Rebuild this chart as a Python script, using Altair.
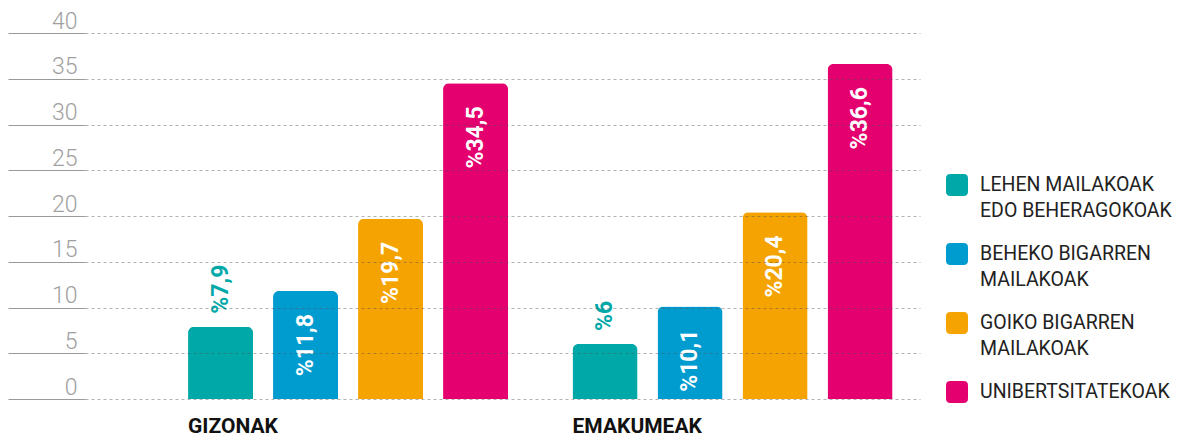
import json
import altair as alt
import pandas as pd

groups = ["GIZONAK", "EMAKUMEAK"]
levels = [
    "LEHEN MAILAKOAK EDO BEHERAGOKOAK",
    "BEHEKO BIGARREN MAILAKOAK",
    "GOIKO BIGARREN MAILAKOAK",
    "UNIBERTSITATEKOAK",
]
level_lines = [
    ["LEHEN MAILAKOAK", "EDO BEHERAGOKOAK"],
    ["BEHEKO BIGARREN", "MAILAKOAK"],
    ["GOIKO BIGARREN", "MAILAKOAK"],
    ["UNIBERTSITATEKOAK"],
]
gizonak = [7.9, 11.8, 19.7, 34.5]
emakumeak = [6.0, 10.1, 20.4, 36.6]
colors = ["#00a8a8", "#009bcf", "#f5a300", "#e4006f"]
y_ticks = [0, 5, 10, 15, 20, 25, 30, 35, 40]

rows = []
for g, vals in zip(groups, [gizonak, emakumeak]):
    for lvl, v in zip(levels, vals):
        rows.append({"group": g, "level": lvl, "value": v,
                     "label": ("%" + f"{v:g}").replace(".", ",")})
df = pd.DataFrame(rows)

label_expr = ""
for lvl, lines in zip(levels, level_lines):
    label_expr += f"datum.label == {json.dumps(lvl)} ? {json.dumps(lines)} : "
label_expr += "datum.label"

rounded = ("M -0.6,-1 L 0.6,-1 Q 1,-1 1,-0.6 L 1,0.6 Q 1,1 0.6,1 L -0.6,1 "
           "Q -1,1 -1,0.6 L -1,-0.6 Q -1,-1 -0.6,-1 Z")

FONT = "Roboto"

base = alt.Chart(df).encode(
    x=alt.X("group:N", sort=groups, title=None,
            scale=alt.Scale(paddingInner=0.1157, paddingOuter=0.1437, align=0.842),
            axis=alt.Axis(domain=False, ticks=False, grid=False,
                          labelAlign="left", labelBaseline="top", labelPadding=16,
                          labelOffset=-160,
                          labelFont=FONT, labelFontSize=21, labelFontWeight="bold",
                          labelColor="#111111", labelAngle=0)),
    xOffset=alt.XOffset("level:N", sort=levels,
                        scale=alt.Scale(paddingInner=0.2353, paddingOuter=0.1176)),
    y=alt.Y("value:Q", title=None,
            scale=alt.Scale(domain=[0, 40], nice=False),
            axis=alt.Axis(values=y_ticks, domain=False, ticks=True, tickSize=77,
                          tickColor="#9a9a9a", tickWidth=1.2,
                          grid=True, gridColor="#555555", gridOpacity=0.45,
                          gridDash=[3, 3], gridWidth=1,
                          labelPadding=-69, labelAlign="right",
                          labelBaseline="alphabetic", labelOffset=-5,
                          labelFont=FONT, labelFontSize=23, labelFontWeight=300,
                          labelColor="#a0a0a0", zindex=1)),
)

bars = base.mark_bar(cornerRadiusTopLeft=6, cornerRadiusTopRight=6).encode(
    color=alt.Color("level:N", sort=levels,
                    scale=alt.Scale(domain=levels, range=colors),
                    legend=alt.Legend(title=None, orient="none", legendX=861, legendY=141,
                                      padding=0, symbolType=rounded, symbolSize=484,
                                      symbolStrokeWidth=0, symbolOpacity=1,
                                      labelFont=FONT, labelFontSize=19.5,
                                      labelColor="#222222", labelLimit=400,
                                      labelOffset=12, rowPadding=23,
                                      labelExpr=label_expr)),
)

inside = base.transform_filter("datum.value >= 9").mark_text(
    angle=270, align="right", baseline="middle", dx=-23,
    font=FONT, fontSize=23, fontWeight="bold", color="white",
).encode(text="label:N")

outside = base.transform_filter("datum.value < 9").mark_text(
    angle=270, align="left", baseline="middle", dx=13,
    font=FONT, fontSize=23, fontWeight="bold", color=colors[0],
).encode(text="label:N")

chart = alt.layer(bars, inside, outside).properties(
    width=835, height=366,
    autosize=alt.AutoSizeParams(type="none"),
    padding={"left": 77, "top": 25, "right": 264, "bottom": 42},
).configure(
    view=alt.ViewConfig(stroke=None),
    style={"guide-label": {"lineHeight": 25.5}},
)

chart.save("out.html", embed_options={"renderer": "svg", "actions": False})
